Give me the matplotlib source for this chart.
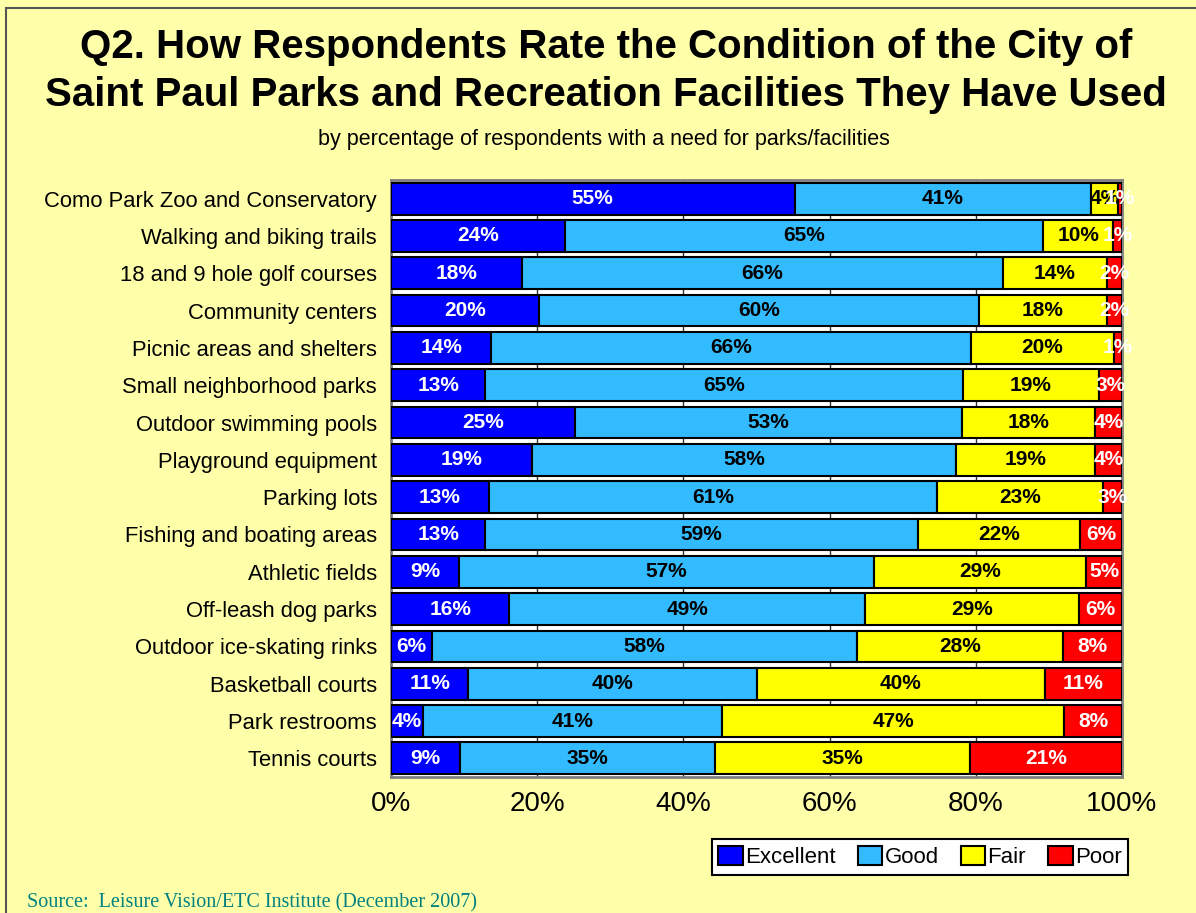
import numpy as np
import matplotlib
matplotlib.use("Agg")
import matplotlib.pyplot as plt
from matplotlib.patches import Rectangle, Patch

plt.rcParams['font.family'] = ['Liberation Sans', 'DejaVu Sans']

# facilities, top to bottom as in the reference
facilities = [
    "Como Park Zoo and Conservatory",
    "Walking and biking trails",
    "18 and 9 hole golf courses",
    "Community centers",
    "Picnic areas and shelters",
    "Small neighborhood parks",
    "Outdoor swimming pools",
    "Playground equipment",
    "Parking lots",
    "Fishing and boating areas",
    "Athletic fields",
    "Off-leash dog parks",
    "Outdoor ice-skating rinks",
    "Basketball courts",
    "Park restrooms",
    "Tennis courts",
]

# percentages (estimated)
excellent = [55.2, 23.8, 17.9, 20.2, 13.7, 12.9, 25.2, 19.3, 13.4, 12.9, 9.3, 16.2, 5.6, 10.6, 4.4, 9.4]
good      = [40.6, 65.4, 65.8, 60.2, 65.6, 65.3, 52.9, 58.0, 61.3, 59.2, 56.8, 48.6, 58.1, 39.6, 40.9, 34.9]
fair      = [3.6, 9.6, 14.2, 17.6, 19.6, 18.7, 18.2, 19.0, 22.7, 22.2, 29.0, 29.3, 28.2, 39.6, 46.8, 34.9]
poor      = [0.6, 1.2, 2.1, 2.0, 1.1, 3.1, 3.7, 3.7, 2.6, 5.7, 4.9, 5.9, 8.1, 10.6, 7.9, 20.8]

series = ["Excellent", "Good", "Fair", "Poor"]
colors = ["#0000FF", "#33BBFF", "#FFFF00", "#FF0000"]
text_colors = ["white", "black", "black", "white"]

bg = "#FFFFAA"

fig = plt.figure(figsize=(11.96, 9.13), dpi=100, facecolor=bg)
fig.patches.append(Rectangle((6 / 1196, -0.1), 1.2, 1 - 8 / 913 + 0.1, transform=fig.transFigure,
                             fill=False, edgecolor="#555555", linewidth=1.5))

ax = fig.add_axes([391 / 1196, 1 - 777 / 913, 731 / 1196, 597 / 913])
ax.set_facecolor("white")

data = np.array([excellent, good, fair, poor])
totals = data.sum(axis=0)
shares = data / totals * 100  # 100% stacked, like the original chart

y = np.arange(len(facilities))
left = np.zeros(len(facilities))
for k in range(4):
    ax.barh(y, shares[k], left=left, height=0.85, color=colors[k],
            edgecolor="black", linewidth=1.5, label=series[k], zorder=3)
    for i in range(len(facilities)):
        ax.text(left[i] + shares[k][i] / 2, y[i], "%.0f%%" % data[k][i],
                ha="center", va="center", fontsize=15, fontweight="bold",
                color=text_colors[k], zorder=4, clip_on=False)
    left += shares[k]

ax.set_xlim(0, 100)
ax.set_ylim(len(facilities) - 0.5, -0.5)
ax.set_yticks(y)
ax.set_yticklabels(facilities, fontsize=15.8)
ax.set_xticks(np.arange(0, 101, 20))
ax.set_xticklabels(["%d%%" % v for v in range(0, 101, 20)], fontsize=20)
ax.tick_params(axis="both", length=0)
ax.tick_params(axis="x", pad=10)
ax.tick_params(axis="y", pad=10)
ax.grid(axis="x", color="#333333", linewidth=1, zorder=1)
for s in ax.spines.values():
    s.set_color("#808080")
    s.set_linewidth(2)

fig.text(606 / 1196, 1 - 47 / 913, "Q2. How Respondents Rate the Condition of the City of",
         ha="center", va="center", fontsize=29, fontweight="bold")
fig.text(606 / 1196, 1 - 95 / 913, "Saint Paul Parks and Recreation Facilities They Have Used",
         ha="center", va="center", fontsize=29, fontweight="bold")
fig.text(604 / 1196, 1 - 140 / 913, "by percentage of respondents with a need for parks/facilities",
         ha="center", va="center", fontsize=15.5)

handles = [Patch(facecolor=c, edgecolor="black", linewidth=1.5) for c in colors]
leg = fig.legend(handles, series, loc="center", bbox_to_anchor=(920 / 1196, 1 - 857 / 913),
                 ncol=4, fontsize=16, frameon=True, fancybox=False, framealpha=1,
                 edgecolor="black", handlelength=1.1, handleheight=0.9, handletextpad=0.1,
                 columnspacing=1.0, borderpad=0.3)
leg.get_frame().set_linewidth(1.5)

fig.text(27 / 1196, 1 - 903 / 913, "Source:  Leisure Vision/ETC Institute (December 2007)",
         ha="left", va="center", fontsize=14.5, color="#008080", family="Liberation Serif")

fig.savefig("out.png", dpi=100, facecolor=bg)
